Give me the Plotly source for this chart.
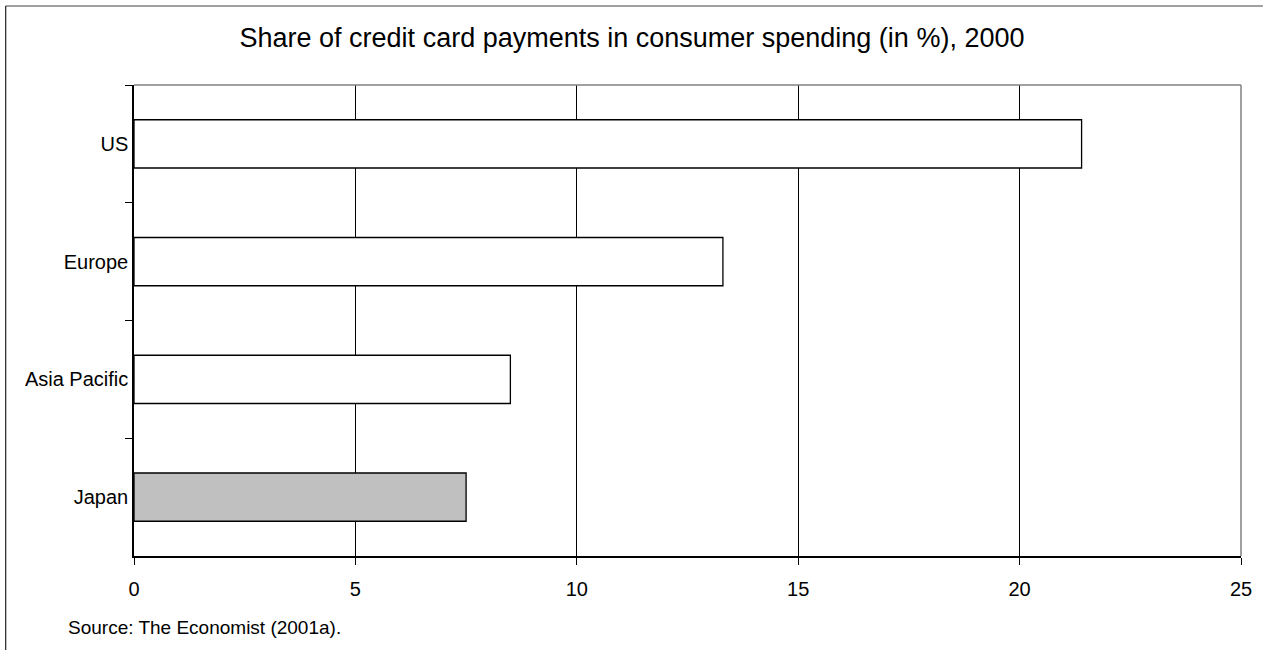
import plotly.graph_objects as go

title = "Share of credit card payments in consumer spending (in %), 2000"
source = "Source: The Economist (2001a)."
regions = ["US", "Europe", "Asia Pacific", "Japan"]
shares = [21.4, 13.3, 8.5, 7.5]
fill_colors = ["#FFFFFF", "#FFFFFF", "#FFFFFF", "#C0C0C0"]
x_ticks = [0, 5, 10, 15, 20, 25]

FONT = "Arial, Liberation Sans, sans-serif"

fig = go.Figure(
    go.Bar(
        x=shares,
        y=regions,
        orientation="h",
        marker=dict(color=fill_colors, line=dict(color="black", width=1.3)),
        hoverinfo="x+y",
    )
)

W, H = 1264, 650
L, R, T, B = 134, 17, 85, 94
pw, ph = W - L - R, H - T - B


def px_x(p):
    return (p - L) / pw


def px_y(p):
    return (H - B - p) / ph


fig.update_layout(
    width=W,
    height=H,
    autosize=False,
    margin=dict(l=L, r=R, t=T, b=B, pad=0),
    paper_bgcolor="white",
    plot_bgcolor="white",
    showlegend=False,
    bargap=0.59,
    font=dict(family=FONT, color="black", size=20),
    title=dict(
        text=title,
        x=0.5,
        xref="container",
        xanchor="center",
        y=1 - 38 / H,
        yanchor="middle",
        font=dict(size=27, family=FONT, color="black"),
    ),
    xaxis=dict(
        range=[0, 25],
        tickvals=x_ticks,
        ticktext=[str(v) for v in x_ticks],
        showgrid=True,
        gridcolor="black",
        gridwidth=1,
        zeroline=False,
        showline=True,
        linecolor="black",
        linewidth=1.5,
        ticks="outside",
        ticklen=7,
        tickcolor="black",
        ticklabelstandoff=7,
        tickfont=dict(size=20, family=FONT),
        fixedrange=True,
    ),
    yaxis=dict(
        type="category",
        categoryorder="array",
        categoryarray=regions,
        autorange="reversed",
        tickson="boundaries",
        ticks="outside",
        ticklen=7,
        tickcolor="black",
        showgrid=False,
        zeroline=False,
        showline=True,
        linecolor="black",
        linewidth=1.5,
        tickfont=dict(size=20, family=FONT),
        fixedrange=True,
    ),
    shapes=[
        # plot frame top and right (grey)
        dict(type="line", xref="paper", yref="paper", x0=0, x1=1, y0=1, y1=1,
             line=dict(color="#808080", width=1.5), layer="above"),
        dict(type="line", xref="paper", yref="paper", x0=1, x1=1, y0=0, y1=1,
             line=dict(color="#808080", width=1.5), layer="above"),
        # outer chart border (top and left)
        dict(type="line", xref="paper", yref="paper", x0=px_x(5), x1=px_x(W + 5),
             y0=px_y(6), y1=px_y(6), line=dict(color="#808080", width=1.5)),
        dict(type="line", xref="paper", yref="paper", x0=px_x(5), x1=px_x(5),
             y0=px_y(6), y1=px_y(H + 5), line=dict(color="#202020", width=1.2)),
    ],
    annotations=[
        dict(text=source, xref="paper", yref="paper", x=px_x(66), y=px_y(627),
             xanchor="left", yanchor="middle", showarrow=False,
             font=dict(size=19, family=FONT, color="black")),
    ],
)

fig.write_html(
    "out.html",
    config={"displayModeBar": False, "responsive": False},
    post_script="document.body.style.margin='0';document.body.style.overflow='hidden';",
)
